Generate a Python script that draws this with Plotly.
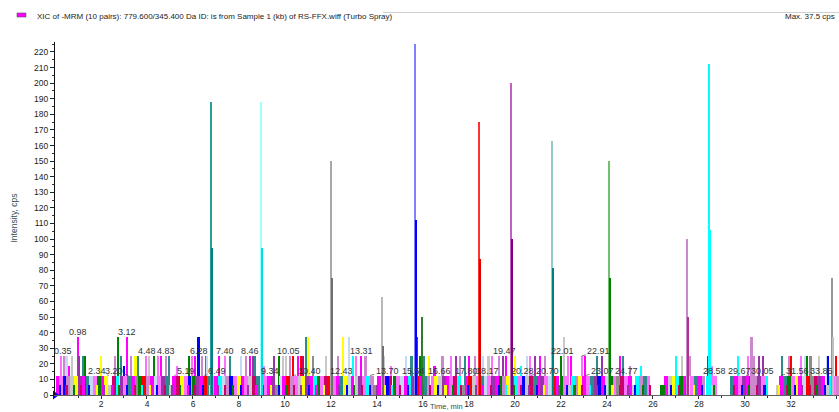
import plotly.graph_objects as go

# ---------------- data ----------------
# colour code per MRM channel
COL = {'M': '#FF00FF', 'K': '#FF70FF', 'O': '#CC88CC', 'P': '#9933AA', 'D': '#CC0066',
       'B': '#0000FF', 'R': '#FF0000', 'G': '#008000', 'C': '#00FFFF', 'T': '#2E8B8B',
       'A': '#8C8C8C', 'L': '#C8C8C8', 'S': '#C4DAF2', 'Y': '#FFFF00'}

# baseline noise band (time, min / intensity, cps / channel)
base_t = [0.12, 0.27, 0.43, 0.58, 0.74, 0.90, 1.08, 1.24, 1.41, 1.57, 1.73, 1.90,
          2.07, 2.23, 2.40, 2.56, 2.72, 2.89, 3.06, 3.22, 3.38, 3.55, 3.71, 3.88,
          4.05, 4.21, 4.37, 4.53, 4.70, 4.86, 5.03, 5.19, 5.36, 5.52, 5.68, 5.85,
          6.02, 6.18, 6.34, 6.51, 6.67, 6.84, 7.00, 7.17, 7.33, 7.50, 7.66, 7.83,
          7.99, 8.16, 8.32, 8.49, 8.65, 8.82, 8.98, 9.15, 9.31, 9.48, 9.64, 9.81,
          9.97, 10.14, 10.30, 10.47, 10.63, 10.80, 10.96, 11.13, 11.29, 11.46, 11.62, 11.79,
          11.95, 12.12, 12.28, 12.45, 12.61, 12.78, 12.94, 13.11, 13.27, 13.44, 13.60, 13.77,
          13.93, 14.10, 14.26, 14.43, 14.59, 14.76, 14.92, 15.09, 15.25, 15.42, 15.58, 15.75,
          15.91, 16.08, 16.24, 16.41, 16.57, 16.74, 16.90, 17.07, 17.23, 17.40, 17.56, 17.73,
          17.89, 18.06, 18.22, 18.39, 18.55, 18.72, 18.88, 19.05, 19.21, 19.38, 19.54, 19.71,
          19.87, 20.04, 20.20, 20.37, 20.53, 20.70, 20.86, 21.03, 21.19, 21.36, 21.52, 21.69,
          21.85, 22.02, 22.18, 22.35, 22.51, 22.68, 22.84, 23.01, 23.17, 23.34, 23.50, 23.67,
          23.83, 24.00, 24.16, 24.33, 24.49, 24.66, 24.82, 24.99, 25.15, 25.32, 25.48, 25.65,
          25.81, 26.40, 26.56, 26.73, 26.89,
          27.05, 27.21, 27.38, 27.54, 27.71, 27.87,
          28.04, 28.20, 28.37, 28.53, 28.70,
          29.45, 29.62, 29.78, 29.95,
          30.11, 30.28, 30.44, 30.61, 30.77, 30.94,
          31.42, 31.58, 31.75, 31.91,
          32.08, 32.24, 32.41, 32.57, 32.74, 32.90,
          33.07, 33.23, 33.40, 33.56, 33.73, 33.89, 34.05]
base_h = [12.5, 12.5, 12.5, 12.5, 12.5, 12.5, 12.5, 12.5, 12.5, 12.5, 12.5, 12.5,
          12.5, 12.5, 6.25, 12.5, 12.5, 12.5, 12.5, 12.5, 12.5, 12.5, 12.5, 12.5,
          12.5, 12.5, 12.5, 12.5, 12.5, 12.5, 6.25, 12.5, 12.5, 12.5, 12.5, 12.5,
          12.5, 12.5, 12.5, 12.5, 12.5, 12.5, 12.5, 12.5, 12.5, 12.5, 12.5, 12.5,
          12.5, 12.5, 12.5, 12.5, 12.5, 12.5, 12.5, 12.5, 12.5, 12.5, 6.25, 12.5,
          12.5, 12.5, 12.5, 12.5, 12.5, 12.5, 12.5, 12.5, 12.5, 12.5, 12.5, 12.5,
          12.5, 12.5, 12.5, 12.5, 12.5, 12.5, 12.5, 12.5, 12.5, 12.5, 12.5, 12.5,
          6.25, 12.5, 12.5, 12.5, 12.5, 12.5, 12.5, 12.5, 12.5, 12.5, 12.5, 12.5,
          12.5, 12.5, 12.5, 12.5, 12.5, 12.5, 12.5, 12.5, 12.5, 12.5, 12.5, 6.25,
          12.5, 12.5, 12.5, 12.5, 12.5, 12.5, 12.5, 12.5, 12.5, 12.5, 12.5, 12.5,
          12.5, 12.5, 12.5, 12.5, 12.5, 12.5, 12.5, 12.5, 12.5, 12.5, 12.5, 12.5,
          12.5, 12.5, 12.5, 6.25, 12.5, 12.5, 12.5, 12.5, 12.5, 12.5, 12.5, 12.5,
          12.5, 12.5, 12.5, 12.5, 12.5, 12.5, 12.5, 12.5, 6.25, 12.5, 12.5, 12.5,
          12.5, 6.25, 12.5, 12.5, 12.5,
          12.5, 12.5, 12.5, 12.5, 12.5, 12.5,
          12.5, 12.5, 12.5, 6.25, 12.5,
          12.5, 12.5, 12.5, 12.5,
          12.5, 12.5, 12.5, 12.5, 12.5, 12.5,
          6.25, 12.5, 12.5, 12.5,
          12.5, 12.5, 12.5, 12.5, 12.5, 12.5,
          12.5, 12.5, 12.5, 6.25, 12.5, 12.5, 12.5]
base_c = list("MKBOLY PMTSKG MYLDCP KTMAGR OMSKPT LMDYKB GPMRTK MCSOBK YMKLDT CKMPAS "
              "MROKLY PMCGKD RKMTYS MLPKCO AMKBDG KSMCPR MTOKYL PMKDCA MRLKTS KPMGOY "
              "MCKBLD TMPKSR MGKLCO YMKTPB MSGKAD KMLCOT KGMLY CGMYKT MOCLK TMKP "
              "MROPKC LMTG KYMSRA DPMLCKO".replace(" ", ""))

# low single-count readings
low_t = [0.20, 0.50, 0.82, 1.15, 1.48, 1.83, 2.15, 2.48, 2.80, 3.14, 3.46, 3.80,
         4.12, 4.45, 4.78, 5.10, 5.44, 5.77, 6.10, 6.42, 6.75, 7.08, 7.41, 7.74,
         8.07, 8.40, 8.73, 9.06, 9.39, 9.72, 10.05, 10.38, 10.71, 11.04, 11.37, 11.70,
         12.03, 12.36, 12.69, 13.02, 13.35, 13.68, 14.01, 14.34, 14.67, 15.00, 15.33, 15.66,
         15.99, 16.32, 16.65, 16.98, 17.31, 17.64, 17.97, 18.30, 18.63, 18.96, 19.29, 19.62,
         19.95, 20.28, 20.61, 20.94, 21.27, 21.60, 21.93, 22.26, 22.59, 22.92, 23.25, 23.58,
         23.91, 24.24, 24.57, 24.90, 25.23, 25.56, 25.87, 26.47, 26.80, 27.13, 27.46, 27.79,
         28.12, 28.45, 28.66, 29.52, 29.86, 30.19, 30.52, 30.85, 31.50, 31.83,
         32.16, 32.49, 32.82, 33.15, 33.48, 33.81]
low_h = [6.25, 6.25, 6.25, 6.25, 6.25, 6.25, 6.25, 6.25, 6.25, 6.25, 6.25, 6.25,
         6.25, 6.25, 6.25, 6.25, 6.25, 6.25, 6.25, 6.25, 6.25, 6.25, 6.25, 6.25,
         6.25, 6.25, 6.25, 6.25, 6.25, 6.25, 6.25, 6.25, 6.25, 6.25, 6.25, 6.25,
         6.25, 6.25, 6.25, 6.25, 6.25, 6.25, 6.25, 6.25, 6.25, 6.25, 6.25, 6.25,
         6.25, 6.25, 6.25, 6.25, 6.25, 6.25, 6.25, 6.25, 6.25, 6.25, 6.25, 6.25,
         6.25, 6.25, 6.25, 6.25, 6.25, 6.25, 6.25, 6.25, 6.25, 6.25, 6.25, 6.25,
         6.25, 6.25, 6.25, 6.25, 6.25, 6.25, 6.25, 6.25, 6.25, 6.25, 6.25, 6.25,
         6.25, 6.25, 6.25, 6.25, 6.25, 6.25, 6.25, 6.25, 6.25, 6.25,
         6.25, 6.25, 6.25, 6.25, 6.25, 6.25]
low_c = list("BDG DBY PMG BDC YBD PGM DBY PDG BPM DYB GDP BMY DPB GDB PYC DBG PDB YGD "
             "BPM DBC GDP BYD PBG DCP BYD PBG DGB DPY BDG DB GDB YD BPD GBD".replace(" ", ""))

# sporadic higher noise readings
tall_t = [0.28, 0.38, 0.50, 0.62, 0.75, 0.98, 1.06, 1.20, 1.30,
          1.98, 2.62, 2.72, 2.86, 3.00, 3.12, 3.30, 3.50, 3.62,
          3.95, 4.10, 4.30, 4.48, 4.62, 4.83, 4.95, 5.30,
          5.82, 5.95, 6.10, 6.24, 6.40, 6.55, 6.62, 7.12, 7.40, 7.62,
          8.10, 8.30, 8.46, 8.60, 8.70, 9.10, 9.52, 9.72, 9.90, 10.05,
          10.20, 10.35, 10.55, 10.68, 10.80, 10.90, 11.00, 11.20,
          11.78, 12.30, 12.54, 12.80, 12.95, 13.10, 13.31, 13.50,
          14.30, 14.60, 15.25, 15.50, 15.75, 15.88, 16.05, 16.25,
          16.50, 16.85, 17.20, 17.45, 17.62, 17.82, 18.02, 18.25, 18.60,
          18.85, 19.02, 19.30, 19.47, 19.62, 20.00, 20.25, 20.52, 20.64,
          20.86, 21.10, 21.30, 22.01, 22.14, 22.30, 22.45, 22.91,
          23.05, 23.55, 23.80, 24.55, 24.70, 25.00, 25.50,
          27.00, 27.25, 27.62, 28.40, 28.55,
          29.70, 30.12, 30.40, 30.62, 30.78,
          31.62, 31.90, 32.00, 32.45, 32.60, 32.70, 32.85, 33.20, 33.55, 33.62, 33.95]
tall_h = [25, 25, 25, 18.75, 25, 37.5, 25, 25, 25,
          25, 25, 37.5, 25, 18.75, 37.5, 25, 25, 25,
          25, 25, 25, 25, 25, 25, 25, 18.75,
          25, 25, 25, 37.5, 25, 25, 25, 25, 25, 25,
          25, 25, 25, 25, 25, 18.75, 25, 25, 25, 25,
          25, 25, 25, 25, 25, 37.5, 37.5, 25,
          25, 25, 37.5, 37.5, 25, 25, 25, 25,
          25, 18.75, 25, 25, 37.5, 25, 25, 25,
          18.75, 25, 25, 25, 25, 25, 25, 25, 25,
          25, 25, 25, 25, 25, 25, 18.75, 25, 25,
          25, 25, 25, 25, 37.5, 25, 25, 25,
          25, 25, 25, 25, 25, 18.75, 18.75,
          25, 25, 25, 25, 18.75,
          25, 25, 25, 25, 25,
          25, 25, 25, 25, 25, 25, 25, 25, 25, 25, 25]
tall_c = list("KOSMLMPTG YOGTBMOYT KLGKMOTK GKMBOTSMKT SOMPTKPGLL ORMRDTYA LOYSCKMO "
              "LKSTDGTY MOKPOTMOS LKOPMYCSK PMOGLKMK MTPMTOC CLORK CKOPP TORKSGALSBR".replace(" ", ""))

# resolved peaks (apex scan and neighbouring scan)
peak_t = [6.80, 8.98, 12.02, 14.24, 15.67, 15.98, 18.46, 19.85, 21.63, 24.10, 27.50, 28.46, 30.30, 33.80]
peak_h = [188, 188, 150, 63, 225, 50, 175, 200, 163, 150, 100, 212.5, 37.5, 75]
side_t = [6.82, 9.00, 12.04, 14.26, 15.69, 18.48, 19.87, 21.65, 24.12, 27.52, 28.48, 33.82]
side_h = [94, 94, 75, 31.25, 112.5, 87.5, 100, 81.25, 75, 50, 106, 37.5]

# peak labels (retention time, min) and the reading they sit on
label_t = [0.35, 0.98, 2.34, 3.20, 3.12, 4.48, 4.83, 5.19, 6.28, 6.49, 7.40, 8.46, 9.34,
           10.05, 10.40, 12.43, 13.31, 13.70, 15.54, 16.66, 17.80, 18.17, 19.47, 20.28,
           20.70, 22.01, 22.91, 23.07, 24.77, 28.58, 29.67, 30.05, 31.56, 33.85]
label_y = [25, 37.5, 12.5, 12.5, 37.5, 25, 25, 12.5, 25, 12.5, 25, 25, 12.5,
           25, 12.5, 12.5, 25, 12.5, 12.5, 12.5, 12.5, 12.5, 25, 12.5,
           12.5, 25, 25, 12.5, 12.5, 12.5, 12.5, 12.5, 12.5, 12.5]

x_ticks = [2, 4, 6, 8, 10, 12, 14, 16, 18, 20, 22, 24, 26, 28, 30, 32, 34]
x_minor = [1, 3, 5, 7, 9, 11, 13, 15, 17, 19, 21, 23, 25, 27, 29, 31, 33]

# ---------------- styles / layout ----------------
peak_col = ['#2A9D9D', '#9FFFFF', '#A8A8A8', '#B8B8B8', '#8080FF', '#2E7D2E', '#FF3030',
            '#C060C0', '#90CCCC', '#70C070', '#CC88CC', '#00FFFF', '#CC88CC', '#999999']
side_col = ['#008080', '#00E0E0', '#707070', '#707070', '#0000FF', '#E00000', '#800080',
            '#008080', '#008000', '#B03090', '#00FFFF', '#C0C0C0']
label_shift = [0, 0, -12, -15, 0, -11, 0, 12, 0, 13, 0, 0, 0, 2, 15, 1, 0, 17, 1, 1, 2, 15,
               2, 1, 16, 1, 17, 17, 2, 2, 2, 16, 17, -12]

W, H = 839, 412
ML, MR, MT, MB = 55, 0, 42, 17
X_MAX = 34.09
Y_MAX = 226.4
FONT = 'Liberation Sans, Arial, sans-serif'


def px_x(p):
    return (p - ML) / (W - ML - MR)


def px_y(p):
    return (H - MB - p) / (H - MT - MB)


fig = go.Figure()
layers = [(tall_t, tall_h, tall_c, 0.09),
          (base_t, base_h, base_c, 0.165),
          (low_t, low_h, low_c, 0.09)]
for t, h, c, w in layers:
    fig.add_trace(go.Bar(x=t, y=h, width=w,
                         marker=dict(color=[COL[k] for k in c], line=dict(width=0)),
                         hoverinfo='skip', showlegend=False))
fig.add_trace(go.Bar(x=peak_t, y=peak_h, width=0.08,
                     marker=dict(color=peak_col, line=dict(width=0)),
                     hoverinfo='skip', showlegend=False))
fig.add_trace(go.Bar(x=side_t, y=side_h, width=0.06,
                     marker=dict(color=side_col, line=dict(width=0)),
                     hoverinfo='skip', showlegend=False))
fig.add_trace(go.Scatter(x=[0], y=[0], mode='markers', cliponaxis=False,
                         marker=dict(symbol='triangle-right', size=8, color='#0000FF'),
                         hoverinfo='skip', showlegend=False))

ann = []
for t, y, s in zip(label_t, label_y, label_shift):
    txt = '%.2f' % t
    if abs(s) >= 8:
        ann.append(dict(x=t, y=y, xref='x', yref='y', text=txt, showarrow=True,
                        arrowhead=0, arrowwidth=0.7, arrowcolor='#444', ax=s, ay=-5,
                        standoff=0, font=dict(family=FONT, size=9, color='#333')))
    else:
        ann.append(dict(x=t, y=y, xref='x', yref='y', text=txt, showarrow=False,
                        xshift=s, yshift=5, yanchor='middle',
                        font=dict(family=FONT, size=9, color='#333')))

ann.append(dict(x=px_x(35), y=px_y(16), xref='paper', yref='paper', xanchor='left',
                yanchor='middle', showarrow=False,
                text='XIC of -MRM (10 pairs): 779.600/345.400 Da ID: is from Sample 1 (kb) of RS-FFX.wiff (Turbo Spray)',
                font=dict(family=FONT, size=8, color='#222')))
ann.append(dict(x=px_x(783), y=px_y(17), xref='paper', yref='paper', xanchor='left',
                yanchor='middle', showarrow=False, text='Max. 37.5 cps',
                font=dict(family=FONT, size=8, color='#222')))
ann.append(dict(x=px_x(13.5), y=px_y(218), xref='paper', yref='paper', textangle=-90,
                xanchor='center', yanchor='middle', showarrow=False, text='Intensity, cps',
                font=dict(family=FONT, size=8.5, color='#2F4F4F')))
ann.append(dict(x=px_x(446), y=px_y(400), xref='paper', yref='paper', yanchor='top',
                xanchor='center', showarrow=False, text='Time, min',
                font=dict(family=FONT, size=7.5, color='#2F4F4F')))

shapes = [
    dict(type='line', xref='paper', yref='paper', x0=px_x(383), x1=px_x(839),
         y0=px_y(12.5), y1=px_y(12.5), line=dict(color='#D0D0D0', width=1)),
    dict(type='rect', xref='paper', yref='paper', x0=px_x(17), x1=px_x(26),
         y0=px_y(17), y1=px_y(13), fillcolor='#FF00FF', line=dict(color='#555', width=0.6)),
]

fig.update_layout(
    width=W, height=H, margin=dict(l=ML, r=MR, t=MT, b=MB),
    paper_bgcolor='white', plot_bgcolor='white', barmode='overlay', bargap=0,
    showlegend=False, annotations=ann, shapes=shapes,
    font=dict(family=FONT, size=8.5, color='#222'),
    xaxis=dict(range=[0, X_MAX], showgrid=False, zeroline=False, showline=True,
               linecolor='#606060', linewidth=1, ticks='outside', ticklen=3,
               tickcolor='#333', tickmode='array', tickvals=x_ticks,
               ticklabelstandoff=-2,
               tickfont=dict(family=FONT, size=8.5, color='#222'),
               minor=dict(tickmode='array', tickvals=x_minor, ticks='outside',
                          ticklen=2, tickcolor='#333')),
    yaxis=dict(range=[0, Y_MAX], showgrid=False, zeroline=False, showline=True,
               linecolor='#111', linewidth=1, ticks='outside', ticklen=4,
               tickcolor='#222', tick0=0, dtick=10,
               tickfont=dict(family=FONT, size=8.5, color='#222'),
               minor=dict(dtick=5, ticks='outside', ticklen=2, tickcolor='#333')),
)

fig.write_html('out.html', config={'displayModeBar': False},
               post_script="document.body.style.margin='0';document.body.style.overflow='hidden';")
